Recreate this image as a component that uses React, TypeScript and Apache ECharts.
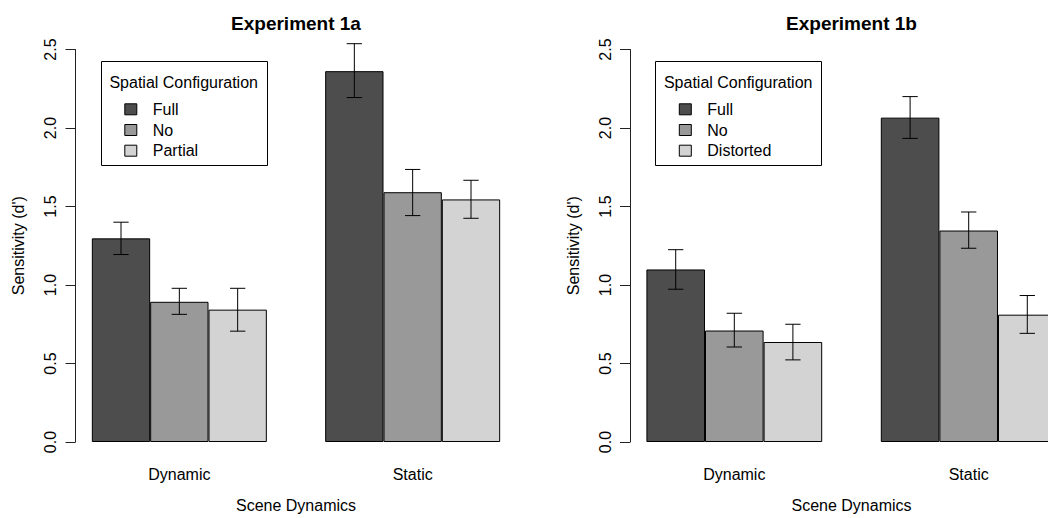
import React, { useEffect, useRef } from "react";
import * as echarts from "echarts";

// ---------- data ----------
const categories = ["Dynamic", "Static"];
const panelTitles = ["Experiment 1a", "Experiment 1b"];
const legendTitle = "Spatial Configuration";
const xAxisName = "Scene Dynamics";
const yAxisName = "Sensitivity (d')";
const namesExp1a = ["Full", "No", "Partial"];
const namesExp1b = ["Full", "No", "Distorted"];
const barColors = ["#4D4D4D", "#999999", "#D3D3D3"];

// Experiment 1a — means per scene dynamics [Dynamic, Static]
const exp1aFull = [1.297, 2.362];
const exp1aNo = [0.893, 1.591];
const exp1aPartial = [0.843, 1.545];
// error bars (lower / upper)
const exp1aFullLow = [1.194, 2.194];
const exp1aFullHigh = [1.400, 2.537];
const exp1aNoLow = [0.813, 1.442];
const exp1aNoHigh = [0.979, 1.736];
const exp1aPartialLow = [0.706, 1.425];
const exp1aPartialHigh = [0.979, 1.667];

// Experiment 1b
const exp1bFull = [1.099, 2.066];
const exp1bNo = [0.710, 1.347];
const exp1bDistorted = [0.637, 0.811];
const exp1bFullLow = [0.973, 1.934];
const exp1bFullHigh = [1.225, 2.200];
const exp1bNoLow = [0.605, 1.234];
const exp1bNoHigh = [0.820, 1.465];
const exp1bDistortedLow = [0.523, 0.692];
const exp1bDistortedHigh = [0.750, 0.933];

const yMin = 0;
const yMax = 2.5;
const yInterval = 0.5;

// ---------- layout ----------
const FONT = "'Liberation Sans', Arial, Helvetica, sans-serif";
const X_MIN = 0.72;
const X_MAX = 8.28;
const CHART_W = 1110;
const panels = [
  {
    left: 75.5,
    width: 441,
    title: panelTitles[0],
    names: namesExp1a,
    values: [exp1aFull, exp1aNo, exp1aPartial],
    lows: [exp1aFullLow, exp1aNoLow, exp1aPartialLow],
    highs: [exp1aFullHigh, exp1aNoHigh, exp1aPartialHigh],
  },
  {
    left: 630,
    width: 443,
    title: panelTitles[1],
    names: namesExp1b,
    values: [exp1bFull, exp1bNo, exp1bDistorted],
    lows: [exp1bFullLow, exp1bNoLow, exp1bDistortedLow],
    highs: [exp1bFullHigh, exp1bNoHigh, exp1bDistortedHigh],
  },
];
const GRID_TOP = 49.5;
const GRID_BOTTOM = 72;

const barX = (group: number, s: number) => 1.5 + s + 4 * group;
const groupCenters = categories.map((_, g) => 2.5 + 4 * g);

export default function App() {
  const ref = useRef<HTMLDivElement>(null);

  useEffect(() => {
    if (!ref.current) return;
    const chart = echarts.init(ref.current, null, { renderer: "svg" });

    const grid: any[] = [];
    const xAxis: any[] = [];
    const yAxis: any[] = [];
    const series: any[] = [];
    const title: any[] = [];
    const legend: any[] = [];
    const graphic: any[] = [];

    panels.forEach((p, pi) => {
      const unit = p.width / (X_MAX - X_MIN);
      grid.push({ left: p.left, width: p.width, top: GRID_TOP, bottom: GRID_BOTTOM, containLabel: false });
      xAxis.push({
        type: "value",
        gridIndex: pi,
        min: X_MIN,
        max: X_MAX,
        axisLine: { show: false },
        axisTick: { show: false },
        splitLine: { show: false },
        axisLabel: {
          customValues: groupCenters,
          formatter: (v: number) => categories[Math.round((v - 2.5) / 4)] ?? "",
          fontSize: 16,
          color: "#000",
          fontFamily: FONT,
          margin: 24,
        },
        name: xAxisName,
        nameLocation: "middle",
        nameGap: 55,
        nameTextStyle: { fontSize: 16, color: "#000", fontFamily: FONT },
      });
      yAxis.push({
        type: "value",
        gridIndex: pi,
        min: yMin,
        max: yMax,
        interval: yInterval,
        axisLine: { show: true, lineStyle: { color: "#222", width: 1 } },
        axisTick: { show: true, length: 10, lineStyle: { color: "#222", width: 1 } },
        splitLine: { show: false },
        axisLabel: {
          rotate: 90,
          margin: 17,
          fontSize: 16,
          color: "#000",
          fontFamily: FONT,
          formatter: (v: number) => v.toFixed(1),
        },
        name: yAxisName,
        nameLocation: "middle",
        nameRotate: 90,
        nameGap: 49,
        nameTextStyle: { fontSize: 16, color: "#000", fontFamily: FONT },
      });

      p.names.forEach((name, s) => {
        series.push({
          type: "bar",
          name,
          xAxisIndex: pi,
          yAxisIndex: pi,
          barWidth: unit,
          barGap: "-100%",
          itemStyle: { color: barColors[s], borderColor: "#000", borderWidth: 1 },
          data: categories.map((_, g) => [barX(g, s), p.values[s][g]]),
          z: 2,
        });
      });

      const errData: number[][] = [];
      p.names.forEach((_, s) => {
        categories.forEach((__, g) => {
          errData.push([barX(g, s), p.lows[s][g], p.highs[s][g]]);
        });
      });
      series.push({
        type: "custom",
        name: "error" + pi,
        xAxisIndex: pi,
        yAxisIndex: pi,
        clip: false,
        z: 5,
        encode: { x: 0, y: [1, 2] },
        data: errData,
        renderItem: (_params: any, api: any) => {
          const x = api.value(0);
          const lo = api.coord([x, api.value(1)]);
          const hi = api.coord([x, api.value(2)]);
          const cap = 7.65;
          const st = { stroke: "#000", lineWidth: 1 };
          return {
            type: "group",
            children: [
              { type: "line", shape: { x1: lo[0], y1: lo[1], x2: hi[0], y2: hi[1] }, style: st },
              { type: "line", shape: { x1: lo[0] - cap, y1: lo[1], x2: lo[0] + cap, y2: lo[1] }, style: st },
              { type: "line", shape: { x1: hi[0] - cap, y1: hi[1], x2: hi[0] + cap, y2: hi[1] }, style: st },
            ],
          };
        },
      });

      title.push({
        text: p.title,
        left: p.left + p.width / 2,
        top: 14,
        textAlign: "center",
        padding: 0,
        textStyle: { fontSize: 19, fontWeight: "bold", color: "#000", fontFamily: FONT },
      });

      const boxLeft = p.left + 25.2;
      legend.push({
        data: p.names,
        orient: "vertical",
        left: boxLeft + 23.6,
        top: 99.3,
        padding: 0,
        itemWidth: 12,
        itemHeight: 11,
        itemGap: 0.7,
        icon: "rect",
        selectedMode: false,
        itemStyle: { borderColor: "#000", borderWidth: 1 },
        textStyle: {
          fontSize: 16,
          color: "#000",
          fontFamily: FONT,
          lineHeight: 20,
          padding: [0, 0, 0, 11],
        },
      });

      graphic.push({
        type: "rect",
        shape: { x: Math.round(boxLeft) + 0.5, y: 61.5, width: 166, height: 104 },
        style: { fill: "none", stroke: "#000", lineWidth: 1 },
        z: 10,
      });
      graphic.push({
        type: "text",
        x: boxLeft + 83,
        y: 82,
        style: {
          text: legendTitle,
          fontSize: 16,
          fontFamily: FONT,
          fill: "#000",
          align: "center",
          verticalAlign: "middle",
        },
        z: 10,
      });
    });

    chart.setOption({
      animation: false,
      backgroundColor: "#fff",
      title,
      legend,
      grid,
      xAxis,
      yAxis,
      series,
      graphic,
    });

    return () => chart.dispose();
  }, []);

  return (
    <div
      style={{
        position: "absolute",
        left: 0,
        top: 0,
        width: 1048,
        height: 518,
        overflow: "hidden",
        background: "#fff",
      }}
    >
      <div ref={ref} style={{ width: CHART_W, height: 518 }} />
    </div>
  );
}
